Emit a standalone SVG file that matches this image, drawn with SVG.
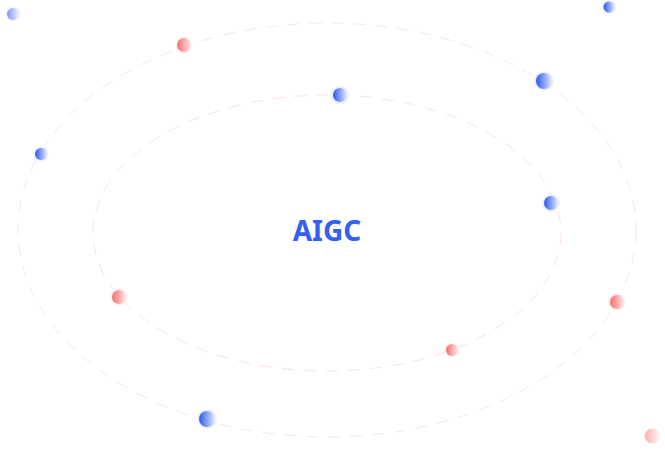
<svg xmlns="http://www.w3.org/2000/svg" width="665" height="456" viewBox="0 0 665 456">
<style>
.orbit-outer{fill:none;stroke:#e9eafb;stroke-width:1;stroke-dasharray:12 10}
.orbit-inner{fill:none;stroke:#fde2e2;stroke-width:1;stroke-dasharray:12 10}
.halo-b{fill:#edf1fe}
.halo-r{fill:#fef1f1}
.b{fill:url(#gb)}
.r{fill:url(#gr)}
.title{font-family:"Noto Sans","Liberation Sans",sans-serif;font-weight:700;font-size:28px;fill:#3560f0}
</style>
<defs>
<linearGradient id="gb" x1="0" y1="0" x2="1" y2="0">
<stop offset="0" stop-color="#2d57ee"/>
<stop offset="1" stop-color="#e3e9fe"/>
</linearGradient>
<linearGradient id="gr" x1="0" y1="0" x2="1" y2="0">
<stop offset="0" stop-color="#f76d6d"/>
<stop offset="1" stop-color="#fde6e6"/>
</linearGradient>
<linearGradient id="gbp" x1="0" y1="0" x2="1" y2="0">
<stop offset="0" stop-color="#7d96f5"/>
<stop offset="1" stop-color="#eef1fe"/>
</linearGradient>
<linearGradient id="grp" x1="0" y1="0" x2="1" y2="0">
<stop offset="0" stop-color="#fbb0b0"/>
<stop offset="1" stop-color="#fef0f0"/>
</linearGradient>
</defs>
<g id="connectors">
<ellipse class="orbit-outer" cx="327" cy="230" rx="309" ry="207"/>
<ellipse class="orbit-inner" cx="327" cy="233" rx="234" ry="138"/>
</g>
<g id="center"><text class="title" x="327" y="241" text-anchor="middle">AIGC</text></g>
<g id="orb1"><circle class="halo-b" cx="13" cy="14" r="7"/><circle fill="url(#gbp)" cx="13" cy="14" r="6"/></g>
<g id="orb2"><circle class="halo-r" cx="184" cy="45" r="8.5"/><circle class="r" cx="184" cy="45" r="7"/></g>
<g id="orb3"><circle class="halo-b" cx="340" cy="95" r="9.5"/><circle class="b" cx="340" cy="95" r="7"/></g>
<g id="orb4"><circle class="halo-b" cx="544" cy="81" r="10"/><circle class="b" cx="544" cy="81" r="8"/></g>
<g id="orb5"><circle class="halo-b" cx="609" cy="7" r="7"/><circle class="b" cx="609" cy="7" r="5.5"/></g>
<g id="orb6"><circle class="halo-b" cx="41" cy="154" r="7.5"/><circle class="b" cx="41" cy="154" r="6"/></g>
<g id="orb7"><circle class="halo-b" cx="551" cy="203" r="9"/><circle class="b" cx="551" cy="203" r="7"/></g>
<g id="orb8"><circle class="halo-r" cx="617" cy="302" r="9"/><circle class="r" cx="617" cy="302" r="7"/></g>
<g id="orb9"><circle class="halo-r" cx="119" cy="297" r="9"/><circle class="r" cx="119" cy="297" r="7"/></g>
<g id="orb10"><circle class="halo-r" cx="452" cy="350" r="7"/><circle class="r" cx="452" cy="350" r="6"/></g>
<g id="orb11"><circle class="halo-b" cx="207" cy="419" r="10"/><circle class="b" cx="207" cy="419" r="8"/></g>
<g id="orb12"><circle class="halo-r" cx="652" cy="436" r="8.5"/><circle fill="url(#grp)" cx="652" cy="436" r="7"/></g>
</svg>
